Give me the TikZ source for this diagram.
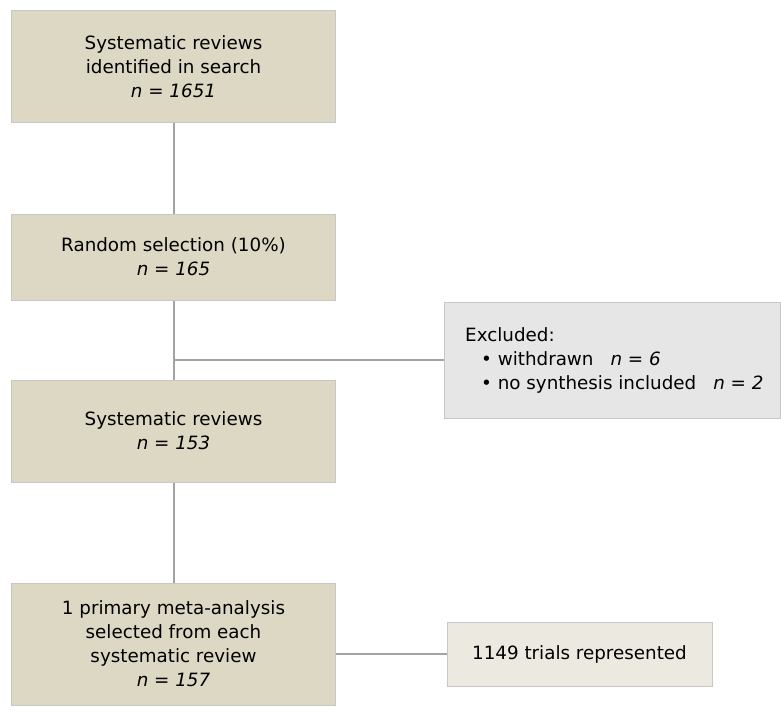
\documentclass[tikz,border=0pt]{standalone}
\usepackage{fontspec}
\setmainfont{DejaVu Sans}
\begin{document}
\begin{tikzpicture}[x=1pt,y=-1pt,
  txt/.style={font=\fontsize{18.3}{24}\selectfont},
  mainbox/.style={draw=black!22,line width=1pt,fill={rgb,255:red,220;green,216;blue,196},minimum width=324pt,align=center,txt,inner sep=0pt},
  link/.style={draw=black!36,line width=2pt}]
\useasboundingbox (0,0) rectangle (781,714);
\node[mainbox,minimum height=112pt] (b1) at (173.5,67) {Systematic reviews\\identified in search\\\textit{n = 1651}};
\node[mainbox,minimum height=86pt] (b2) at (173.5,257) {Random selection (10\%)\\\textit{n = 165}};
\node[mainbox,minimum height=102pt] (b3) at (173.5,431) {Systematic reviews\\\textit{n = 153}};
\node[mainbox,minimum height=122pt] (b4) at (173.5,644) {1 primary meta-analysis\\selected from each\\systematic review\\\textit{n = 157}};
\node[draw=black!22,line width=1pt,fill={rgb,255:red,230;green,230;blue,230},minimum width=336pt,minimum height=116pt,inner sep=0pt] (ex) at (612,360) {};
\node[anchor=west,txt,align=left,inner sep=0pt] (ext) at (465,360) {Excluded:\\\hspace*{16pt}\textbullet\ withdrawn\hspace{17pt}\textit{n = 6}\\\hspace*{16pt}\textbullet\ no synthesis included\hspace{17pt}\textit{n = 2}};
\node[draw=black!22,line width=1pt,fill={rgb,255:red,236;green,234;blue,224},minimum width=265pt,minimum height=64pt,inner sep=0pt,txt] (tr) at (579.5,654) {1149 trials represented};
\draw[link] (b1.south) -- (b2.north);
\draw[link] (b2.south) -- (b3.north);
\draw[link] (b3.south) -- (b4.north);
\coordinate (j) at (b2.south |- ex.west);
\draw[link] (j) -- (ex.west);
\draw[link] (b4.east |- tr.west) -- (tr.west);
\end{tikzpicture}
\end{document}
